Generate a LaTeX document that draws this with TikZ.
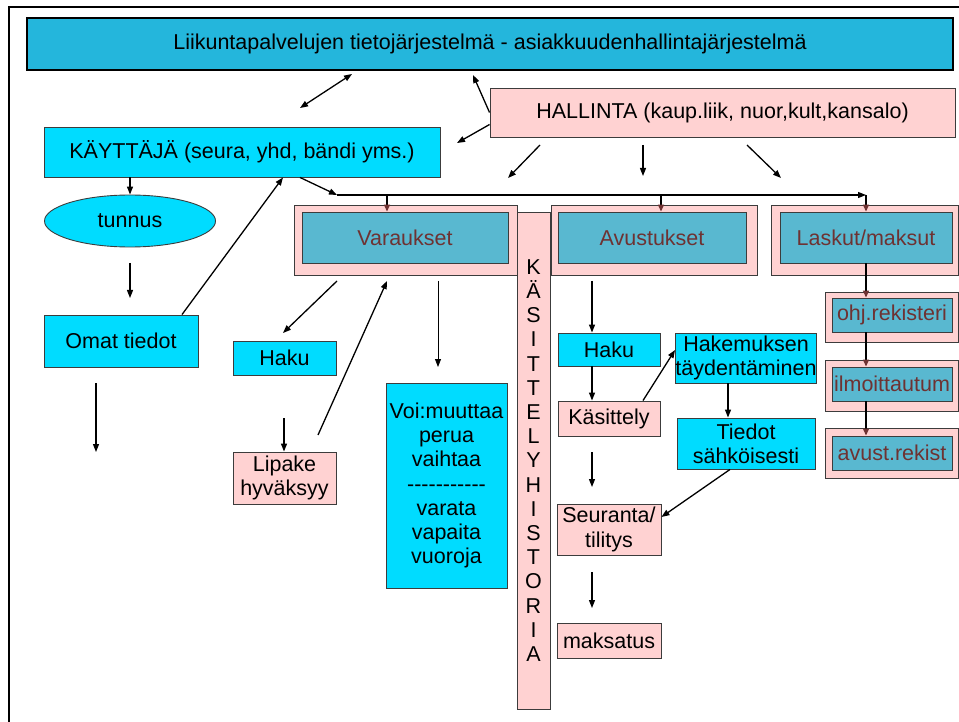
\documentclass[tikz,border=0pt]{standalone}
\usepackage{fontspec}
\setmainfont{Liberation Sans}
\usetikzlibrary{arrows.meta,shapes.geometric}

\definecolor{otsikko}{RGB}{36,182,220}
\definecolor{syaani}{RGB}{0,220,255}
\definecolor{roosa}{RGB}{255,210,210}
\definecolor{petrooli}{RGB}{89,184,208}
\definecolor{viini}{RGB}{110,50,50}
\definecolor{reuna}{RGB}{60,60,60}

\tikzset{
  laatikko/.style={draw=reuna, line width=0.9pt, inner sep=0pt, align=center,
    font=\fontsize{21.5}{24.2}\selectfont},
  sininen/.style={laatikko, fill=syaani},
  pinkki/.style={laatikko, fill=roosa},
  kehys/.style={draw=reuna, line width=0.9pt, fill=roosa, inner sep=0pt},
  sisa/.style={laatikko, fill=petrooli, text=viini},
  nuoli/.style={-{Triangle[length=8pt,width=6pt]}, line width=1.3pt},
  kaksinuoli/.style={{Triangle[length=8pt,width=6pt]}-{Triangle[length=8pt,width=6pt]}, line width=1.3pt},
  haara/.style={-{Triangle[length=7pt,width=6pt,color=viini]}, line width=1.3pt},
}

\begin{document}
\begin{tikzpicture}[x=1pt, y=-1pt]
    \useasboundingbox (0,0) rectangle (959,722);
    % 枠
    \draw[line width=2.5pt] (959,7) -- (9,7) -- (9,722);

    % ノード
    \node[laatikko, fill=otsikko, draw=black, line width=1.3pt, minimum width=926, minimum height=52] (otsikko) at (490,44) {Liikuntapalvelujen tietojärjestelmä - asiakkuudenhallintajärjestelmä};
    \node[pinkki, minimum width=465, minimum height=49] (hallinta) at (722.5,112.5) {HALLINTA (kaup.liik, nuor,kult,kansalo)};
    \node[sininen, minimum width=396, minimum height=50] (kayttaja) at (242,152) {KÄYTTÄJÄ (seura, yhd, bändi yms.)};
    \node[sininen, ellipse, minimum width=171, minimum height=52] (tunnus) at (130,221) {tunnus};
    \node[sininen, minimum width=154, minimum height=52] (omat) at (121,341) {Omat tiedot};
    \node[sininen, minimum width=103, minimum height=34] (haku1) at (284.5,358) {Haku};
    \node[pinkki, minimum width=103, minimum height=52] (lipake) at (284.5,478) {Lipake\\hyväksyy};
    \node[sininen, minimum width=121, minimum height=205] (voi) at (446.5,485.5) {Voi:muuttaa\\perua\\vaihtaa\\-{}-{}-{}-{}-{}-{}-{}-{}-{}-{}-\\varata\\vapaita\\vuoroja};

    % Varaukset, Avustukset, Laskut/maksut
    \node[kehys, minimum width=223, minimum height=70] (varK) at (405.5,240) {};
    \node[sisa, minimum width=206, minimum height=51] (var) at (405,237.5) {Varaukset};
    \node[pinkki, minimum width=33, minimum height=497] (historia) at (533.5,460.5) {K\\Ä\\S\\I\\T\\T\\E\\L\\Y\\H\\I\\S\\T\\O\\R\\I\\A};
    \node[kehys, minimum width=206, minimum height=70] (avuK) at (654,240) {};
    \node[sisa, minimum width=188, minimum height=51] (avu) at (652,237.5) {Avustukset};
    \node[kehys, minimum width=187, minimum height=70] (lasK) at (864.5,240) {};
    \node[sisa, minimum width=172, minimum height=51] (las) at (866,237.5) {Laskut/maksut};

    \node[kehys, minimum width=133, minimum height=50] (ohjK) at (891.5,317) {};
    \node[sisa, minimum width=120, minimum height=34] (ohj) at (892,315) {ohj.rekisteri};
    \node[kehys, minimum width=133, minimum height=51] (ilmK) at (891.5,385.5) {};
    \node[sisa, minimum width=120, minimum height=34] (ilm) at (892,384) {ilmoittautum};
    \node[kehys, minimum width=133, minimum height=50] (avrK) at (891.5,453) {};
    \node[sisa, minimum width=120, minimum height=34] (avr) at (892,453) {avust.rekist};

    \node[sininen, minimum width=102, minimum height=33] (haku2) at (609,349.5) {Haku};
    \node[pinkki, minimum width=102, minimum height=35] (kasittely) at (609,418.5) {Käsittely};
    \node[sininen, minimum width=138, minimum height=50] (hakemus) at (746,358) {Hakemuksen\\täydentäminen};
    \node[sininen, minimum width=138, minimum height=51] (tiedot) at (746,443.5) {Tiedot\\sähköisesti};
    \node[pinkki, minimum width=104, minimum height=51] (seuranta) at (609,529.5) {Seuranta/\\tilitys};
    \node[pinkki, minimum width=104, minimum height=35] (maksatus) at (609,640.5) {maksatus};

    % 端点
    \coordinate (k1) at (300,108);
    \coordinate (k2) at (352,74);
    \coordinate (h1) at (473,75);
    \coordinate (h2) at (457,143);
    \coordinate (h3a) at (540,145);
    \coordinate (h3b) at (508,178);
    \coordinate (h4a) at (643,145);
    \coordinate (h4b) at (643,176);
    \coordinate (h5a) at (747,145);
    \coordinate (h5b) at (781,178);
    \coordinate (vA) at (337,195);
    \coordinate (vB) at (866,195);
    \coordinate (vVar) at (387,195);
    \coordinate (vAvu) at (661,195);
    \coordinate (t1) at (130,263);
    \coordinate (t2) at (130,298);
    \coordinate (o1) at (96,383);
    \coordinate (o2) at (96,452);
    \coordinate (r1) at (337,281);
    \coordinate (r2) at (283,333);
    \coordinate (r3) at (284,418);
    \coordinate (r4) at (318,435);
    \coordinate (r5) at (387,281);
    \coordinate (r6) at (438,281);
    \coordinate (r7) at (438,367);
    \coordinate (a1) at (592,281);
    \coordinate (a2) at (592,452);
    \coordinate (a3) at (592,487);
    \coordinate (a4) at (592,572);
    \coordinate (a5) at (592,608);

    % エッジ
    \draw[kaksinuoli] (k1) -- (k2);
    \draw[nuoli] (hallinta.west) -- (h1);
    \draw[nuoli] ([yshift=-12pt]hallinta.west) -- (h2);
    \draw[nuoli] (h3a) -- (h3b);
    \draw[nuoli] (h4a) -- (h4b);
    \draw[nuoli] (h5a) -- (h5b);
    \draw[nuoli] (kayttaja.south -| tunnus) -- (tunnus.north);
    \draw[nuoli] ([xshift=58pt]kayttaja.south) -- (vA);
    \draw[nuoli] (vA) -- (vB);
    \draw[haara] (vB) -- (las.north);
    \draw[haara] (vVar) -- (vVar |- var.north);
    \draw[haara] (vAvu) -- (vAvu |- avu.north);
    \draw[nuoli] (t1) -- (t2);
    \draw[nuoli] ([xshift=61pt]omat.north) -- ([xshift=41pt]kayttaja.south);
    \draw[nuoli] (o1) -- (o2);
    \draw[nuoli] (r1) -- (r2);
    \draw[nuoli] (r3) -- (r3 |- lipake.north);
    \draw[nuoli] (r4) -- (r5);
    \draw[nuoli, line width=0.8pt] (r6) -- (r7);
    \draw[nuoli] (a1) -- (a1 |- haku2.north);
    \draw[nuoli] (haku2.south -| a1) -- (kasittely.north -| a1);
    \draw[nuoli] ([xshift=34pt]kasittely.north) -- ([yshift=8pt]hakemus.west);
    \draw[nuoli] ([xshift=-18pt]hakemus.south) -- ([xshift=-18pt]tiedot.north);
    \draw[nuoli] ([xshift=-16pt]tiedot.south) -- ([yshift=12.5pt]seuranta.east);
    \draw[nuoli] (a2) -- (a3);
    \draw[nuoli] (a4) -- (a5);
    \draw[haara] (las.south) -- (las.south |- ohj.north);
    \draw[haara] (las.south |- ohj.south) -- (las.south |- ilm.north);
    \draw[haara] (las.south |- ilm.south) -- (las.south |- avr.north);
\end{tikzpicture}
\end{document}
